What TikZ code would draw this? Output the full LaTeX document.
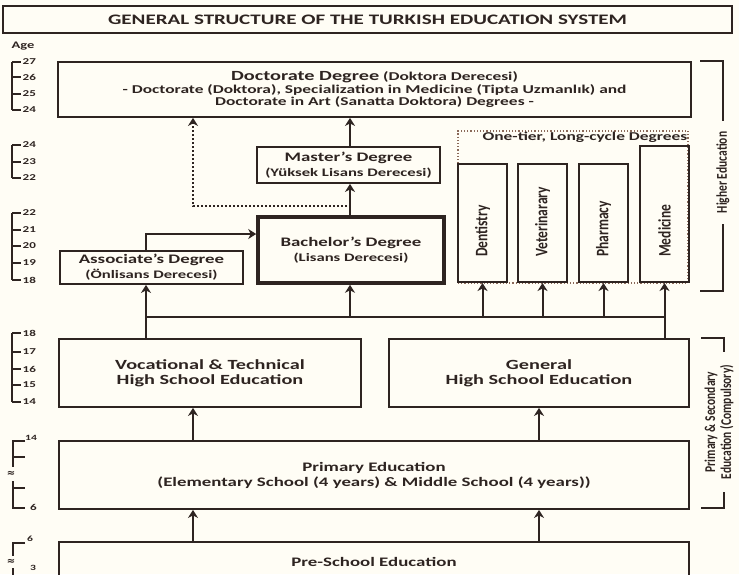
\documentclass[tikz,border=0pt]{standalone}
\usepackage{fontspec}
\usepackage{graphicx}
\setmainfont[FakeStretch=1.45]{Carlito}
\newfontfamily\plainfont{Carlito}
\newfontfamily\symfont{DejaVu Sans}
\usetikzlibrary{arrows.meta}

\definecolor{ink}{HTML}{2E2421}
\definecolor{paper}{HTML}{FFFDF5}
\definecolor{dotline}{HTML}{8A6858}

\tikzset{
  box/.style={draw=ink, line width=1.8pt, text=ink, align=center, inner sep=0pt,
    font=\bfseries\fontsize{13}{15}\selectfont},
  vbox/.style={draw=ink, line width=1.8pt, minimum width=49pt, anchor=south, inner sep=0pt},
  vlabel/.style={rotate=90, anchor=west, text=ink, inner sep=0pt,
    font=\plainfont\bfseries\fontsize{13.5}{15}\selectfont},
  sidelbl/.style={rotate=90, text=ink, inner ysep=0pt, align=center,
    font=\plainfont\bfseries\fontsize{11.5}{16}\selectfont},
  tierbox/.style={draw=dotline, dotted, line width=1.2pt, inner sep=0pt},
  line/.style={draw=ink, line width=2pt},
  tick/.style={draw=ink, line width=1.3pt},
  agetxt/.style={text=ink, anchor=west, inner sep=1pt, font=\bfseries\fontsize{9}{9}\selectfont},
  arr/.style={line, -{Stealth[length=8pt,width=10pt,inset=2.5pt]}},
  dasharr/.style={arr, dash pattern=on 2.5pt off 1.5pt},
}

\begin{document}
\begin{tikzpicture}[x=1pt,y=-1pt]
  \useasboundingbox (0,0) rectangle (739,574);
  \clip (0,0) rectangle (739,574);
  \fill[paper] (0,0) rectangle (739,574);

  \node[box, line width=1.4pt, minimum width=729pt, minimum height=27pt,
    font=\bfseries\fontsize{14.5}{16}\selectfont] (title) at (367.5,19.5)
    {GENERAL STRUCTURE OF THE TURKISH EDUCATION SYSTEM};
  \node[text=ink, font=\bfseries\fontsize{10}{10}\selectfont] (age) at (23,46) {Age};

  \node[box, minimum width=633pt, minimum height=55pt,
    font=\bfseries\fontsize{12}{12.5}\selectfont] (doc) at (374.5,89.5)
    {{\fontsize{14}{12.5}\selectfont Doctorate Degree} (Doktora Derecesi)\\
     - Doctorate (Doktora), Specialization in Medicine (Tipta Uzmanlık) and\\
     Doctorate in Art (Sanatta Doktora) Degrees -};
  \node[box, minimum width=183pt, minimum height=36pt] (master) at (348.5,165)
    {Master's Degree\\{\fontsize{11.5}{13}\selectfont(Yüksek Lisans Derecesi)}};
  \node[box, line width=3.6pt, minimum width=186pt, minimum height=66pt] (bach) at (351,250)
    {Bachelor's Degree\\{\fontsize{11.5}{13}\selectfont(Lisans Derecesi)}};
  \node[box, minimum width=183pt, minimum height=33pt] (assoc) at (151.5,267.5)
    {Associate's Degree\\{\fontsize{11.5}{13}\selectfont(Önlisans Derecesi)}};

  \node[tierbox, minimum width=230pt, minimum height=152pt] (tier) at (573,207) {};
  \node[text=ink, anchor=north east, inner sep=1pt, font=\bfseries\fontsize{12}{12}\selectfont]
    (tierlbl) at (tier.north east) {One-tier, Long-cycle Degrees};
  \foreach \nm/\cx/\top/\txt in {dent/482.5/165/Dentistry, vet/542.5/165/Veterinarary,
      pharm/603.5/165/Pharmacy, med/664.5/147/Medicine} {
    \node[vbox, minimum height={(283-\top)*1pt}] (\nm) at (\cx,283) {};
    \node[vlabel] (\nm-lbl) at ([yshift=26pt]\nm.south) {\scalebox{1}[1.3]{\txt}};
  }

  \node[box, minimum width=302pt, minimum height=68pt, font=\bfseries\fontsize{14}{15}\selectfont]
    (voc) at (210,373) {Vocational \& Technical\\High School Education};
  \node[box, minimum width=300pt, minimum height=68pt, font=\bfseries\fontsize{14}{15}\selectfont]
    (gen) at (539,373) {General\\High School Education};
  \node[box, minimum width=630pt, minimum height=68pt] (prim) at (374,475)
    {Primary Education\\(Elementary School (4 years) \& Middle School (4 years))};
  \node[box, minimum width=630pt, minimum height=40pt] (pre) at (374,562)
    {Pre-School Education};

  \coordinate (colL) at (193,0);
  \coordinate (colM) at (350,0);
  \coordinate (colR) at (539,0);
  \coordinate (bend) at (193,206);
  \coordinate (busL) at (146,317);
  \coordinate (busR) at (665,317);

  \draw[arr] (assoc.north -| busL) |- ([yshift=16pt]bach.west);
  \draw[arr] (bach.north -| colM) -- (master.south -| colM);
  \draw[arr] (master.north -| colM) -- (doc.south -| colM);
  \draw[dasharr] (bach.north -| colM) |- (bend) -- (doc.south -| bend);

  \draw[line] (voc.north -| busL) -- (busL) -- (busR) -- (gen.north -| busR);
  \draw[arr] (busL) -- (assoc.south -| busL);
  \draw[arr] (busL -| colM) -- (bach.south -| colM);
  \foreach \nm in {dent,vet,pharm,med}
    \draw[arr] (\nm.south |- busL) -- (\nm.south);
  \foreach \c in {colL,colR} {
    \draw[arr] (prim.north -| \c) -- (voc.south -| \c);
    \draw[arr] (pre.north -| \c) -- (prim.south -| \c);
  }

  \node[sidelbl, inner xsep=11pt] (hedu) at (723,172.5)
    {\scalebox{1}[1.3]{Higher Education}};
  \draw[line, line width=1.6pt] (700,61) -| (hedu.east);
  \draw[line, line width=1.6pt] (hedu.west) |- (700,291);
  \node[sidelbl, inner xsep=13pt] (psed) at (719,422)
    {\scalebox{1}[1.3]{Primary \& Secondary}\\\scalebox{1}[1.3]{Education (Compulsory)}};
  \draw[line, line width=1.6pt] (701,338) -| ([xshift=5pt]psed.east);
  \draw[line, line width=1.6pt] ([xshift=5pt]psed.west) |- (701,508);

  \foreach \y/\a in {62/27,77/26,94/25,110/24,145/24,162/23,178/22,213/22,230/21,
      246/20,263/19,280/18,333/18,352/17,369/16,385/15,402/14}
    \draw[tick] (12,\y) -- (21,\y) node[agetxt] (age-\y) {\a};
  \draw[tick] (12,62) -- (12,110);
  \draw[tick] (12,145) -- (12,178);
  \draw[tick] (12,213) -- (12,280);
  \draw[tick] (12,333) -- (12,402);

  \draw[tick] (25,441) -- (13,441) -- (13,467);
  \draw[tick] (13,457) -- (25,457);
  \draw[tick] (13,481) -- (13,508) -- (25,508);
  \draw[tick] (13,488) -- (25,488);
  \node[agetxt, anchor=south west, font=\bfseries\fontsize{8}{8}\selectfont] (age-p14) at (24,442) {14};
  \node[agetxt] (age-p6) at (29,507) {6};
  \node[text=ink, inner sep=0pt, font=\symfont\bfseries\fontsize{10}{10}\selectfont] (gap-p) at (11,474) {≈};

  \draw[tick] (25,543) -- (13,543) -- (13,556);
  \draw[tick] (13,568) -- (13,580);
  \node[agetxt, anchor=south west, font=\bfseries\fontsize{8}{8}\selectfont] (age-s6) at (26,543) {6};
  \node[agetxt, font=\bfseries\fontsize{8}{8}\selectfont] (age-s3) at (29,568) {3};
  \node[text=ink, inner sep=0pt, font=\symfont\bfseries\fontsize{10}{10}\selectfont] (gap-s) at (11,562) {≈};
\end{tikzpicture}
\end{document}
